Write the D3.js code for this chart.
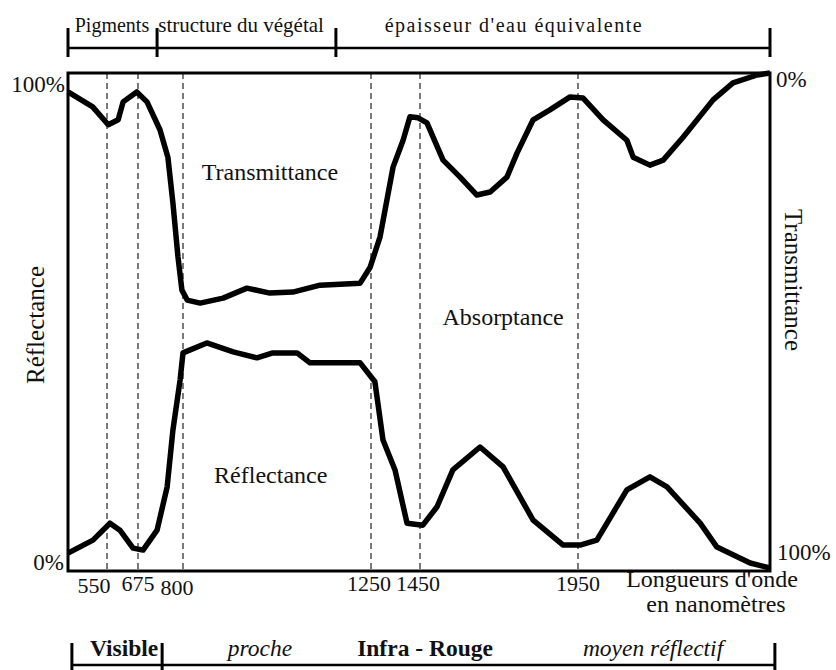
<!DOCTYPE html>
<html>
<head>
<meta charset="utf-8">
<script src="https://cdn.jsdelivr.net/npm/d3@7"></script>
<style>
  body { margin: 0; background: #fff; }
  svg text { font-family: "Liberation Serif", "Times New Roman", serif; fill: #111; }
</style>
</head>
<body>
<svg id="chart" width="836" height="670"></svg>
<script>
// wavelengths (nm) marked by dashed lines
const markWaves = [550, 675, 800, 1250, 1450, 1950];

// upper curve, read against the right axis (transmittance, 0% at top)
const waveT = [400, 495, 555, 595, 615, 670, 700, 736, 758, 772, 786, 797, 810, 841, 896, 953, 1008, 1063, 1128, 1224,
  1248, 1287, 1340, 1381, 1409, 1442, 1472, 1523, 1577, 1630, 1672, 1725, 1757, 1808, 1861, 1925, 1964, 2022, 2090, 2108,
  2156, 2194, 2251, 2337, 2394, 2463, 2500];
const transmittance = [3.8, 6.8, 10.4, 9.4, 5.8, 3.8, 5.8, 11.4, 16.9, 26.1, 36.9, 43.6, 45.6, 46.2, 45.2, 43.2, 44.2, 44, 42.6, 42.2,
  39, 32.9, 18.9, 13.5, 8.8, 9, 10, 17.5, 20.9, 24.5, 23.9, 20.9, 16.1, 9.4, 7.4, 4.8, 5, 9.4, 13.5, 16.9,
  18.5, 17.5, 12.9, 5.4, 2, 0.4, 0];

// lower curve, read against the left axis (reflectance, 0% at bottom)
const waveR = [400, 496, 562, 602, 655, 689, 728, 756, 772, 792, 800, 857, 920, 977, 1015, 1073, 1104, 1224, 1266, 1299,
  1348, 1397, 1459, 1504, 1554, 1640, 1713, 1808, 1903, 1956, 2004, 2090, 2156, 2205, 2300, 2348, 2443, 2500];
const reflectance = [3.6, 6.2, 9.6, 8.2, 4.6, 4.2, 8.2, 16.9, 28.3, 38.4, 43.8, 45.8, 44, 42.8, 43.8, 43.8, 41.8, 41.8, 38, 26.3,
  20.3, 9.6, 9.2, 12.9, 20.3, 24.9, 20.9, 10.2, 5.2, 5.2, 6.2, 16.3, 18.9, 16.9, 9.6, 4.8, 1.6, 0.6];

// bracket bands above and below the plot
const topBounds = [400, 728, 1166, 2500];
const topLabels = ["Pigments", "structure du végétal", "épaisseur d'eau équivalente"];
const topLabelWaves = [570, 939, 1747];
const bottomBounds = [415, 742, 2514];
const bottomLabels = ["Visible", "proche", "Infra - Rouge", "moyen réflectif"];
const bottomLabelWaves = [619, 984, 1466, 2165];

// region names inside the plot: [wavelength, reflectance %]
const regionNames = ["Transmittance", "Absorptance", "Réflectance"];
const regionAnchors = [[1008, 78.5], [1713, 49.4], [1010, 17.7]];

var margin = { top: 73, right: 66, bottom: 99, left: 68 };
var width = 836 - margin.left - margin.right;
var height = 670 - margin.top - margin.bottom;

const svg = d3.select("#chart");

// the wavelength axis of the original is not linear: piecewise scale through the marked values
var x = d3.scaleLinear()
  .domain([400, 550, 675, 800, 1250, 1450, 1950, 2500])
  .range([0, 39, 70, 115, 303, 352, 510, width]);
var yR = d3.scaleLinear().domain([0, 100]).range([height, 0]);
var yT = d3.scaleLinear().domain([0, 100]).range([0, height]);

const g = svg.append("g")
  .attr("transform", "translate(" + margin.left + "," + margin.top + ")");

// dashed guides
g.append("g")
  .selectAll("line")
  .data(markWaves)
  .enter()
  .append("line")
  .attr("x1", d => x(d)).attr("x2", d => x(d))
  .attr("y1", 0).attr("y2", height)
  .attr("stroke", "#222")
  .attr("stroke-width", 1.2)
  .attr("stroke-dasharray", "6,4");

// curves
var lineT = d3.line()
  .x((d, i) => x(waveT[i]))
  .y(d => yT(d));
var lineR = d3.line()
  .x((d, i) => x(waveR[i]))
  .y(d => yR(d));

g.append("path")
  .attr("d", lineT(transmittance))
  .attr("fill", "none")
  .attr("stroke", "#000")
  .attr("stroke-width", 5.5)
  .attr("stroke-linejoin", "round");

g.append("path")
  .attr("d", lineR(reflectance))
  .attr("fill", "none")
  .attr("stroke", "#000")
  .attr("stroke-width", 5.5)
  .attr("stroke-linejoin", "round");

// frame
g.append("rect")
  .attr("width", width).attr("height", height)
  .attr("fill", "none")
  .attr("stroke", "#000")
  .attr("stroke-width", 3);

// percentage labels
g.append("text").attr("x", -3).attr("y", yR(100) + 19)
  .attr("text-anchor", "end").style("font-size", "23px").text("100%");
g.append("text").attr("x", -4).attr("y", yR(0) - 1)
  .attr("text-anchor", "end").style("font-size", "23px").text("0%");
g.append("text").attr("x", width + 6).attr("y", yT(0) + 14)
  .style("font-size", "23px").text("0%");
g.append("text").attr("x", width + 7).attr("y", yT(100) - 11)
  .style("font-size", "23px").text("100%");

// wavelength tick labels
const labelShift = { 550: -13, 800: -6, 1250: -2, 1450: -2 };
const labelDrop = { 550: 2, 800: 4 };
g.append("g")
  .selectAll("text")
  .data(markWaves)
  .enter()
  .append("text")
  .attr("x", d => x(d) + (labelShift[d] || 0))
  .attr("y", d => height + 20 + (labelDrop[d] || 0))
  .attr("text-anchor", "middle")
  .style("font-size", "22px")
  .text(d => d);

g.append("text")
  .attr("x", 644).attr("y", height + 16)
  .attr("text-anchor", "middle")
  .style("font-size", "24px")
  .text("Longueurs d'onde");
g.append("text")
  .attr("x", 648).attr("y", height + 41)
  .attr("text-anchor", "middle")
  .style("font-size", "24px")
  .text("en nanomètres");

// axis titles
svg.append("text")
  .attr("transform", "translate(44," + (margin.top + 252) + ") rotate(-90)")
  .attr("text-anchor", "middle")
  .style("font-size", "25px")
  .text("Réflectance");
svg.append("text")
  .attr("transform", "translate(785," + (margin.top + 207) + ") rotate(90)")
  .attr("text-anchor", "middle")
  .style("font-size", "25px")
  .text("Transmittance");

// region names
g.append("g")
  .selectAll("text")
  .data(regionNames)
  .enter()
  .append("text")
  .attr("x", (d, i) => x(regionAnchors[i][0]))
  .attr("y", (d, i) => yR(regionAnchors[i][1]))
  .attr("text-anchor", "middle")
  .style("font-size", "24px")
  .text(d => d);

// bracket helper: horizontal rule with end ticks
function bracket(bounds, yLine, y1, y2) {
  const b = svg.append("g");
  b.append("line")
    .attr("x1", margin.left + x(bounds[0]))
    .attr("x2", margin.left + x(bounds[bounds.length - 1]))
    .attr("y1", yLine).attr("y2", yLine)
    .attr("stroke", "#000").attr("stroke-width", 2.5);
  b.selectAll(".tk")
    .data(bounds)
    .enter()
    .append("line")
    .attr("x1", d => margin.left + x(d)).attr("x2", d => margin.left + x(d))
    .attr("y1", y1).attr("y2", y2)
    .attr("stroke", "#000").attr("stroke-width", 3);
  return b;
}

bracket(topBounds, 48, 28, 57);
svg.append("g")
  .selectAll("text")
  .data(topLabels)
  .enter()
  .append("text")
  .attr("x", (d, i) => margin.left + x(topLabelWaves[i]))
  .attr("y", 32)
  .attr("text-anchor", "middle")
  .style("font-size", (d, i) => (i === 1 ? "21px" : "20px"))
  .style("letter-spacing", (d, i) => (i === 2 ? "1.5px" : null))
  .text(d => d);

bracket(bottomBounds, 665, 643, 672);
svg.append("g")
  .selectAll("text")
  .data(bottomLabels)
  .enter()
  .append("text")
  .attr("x", (d, i) => margin.left + x(bottomLabelWaves[i]))
  .attr("y", 656)
  .attr("text-anchor", "middle")
  .style("font-size", "23.5px")
  .style("font-weight", (d, i) => (i % 2 === 0 ? "bold" : "normal"))
  .style("font-style", (d, i) => (i % 2 === 1 ? "italic" : "normal"))
  .text(d => d);
</script>
</body>
</html>
